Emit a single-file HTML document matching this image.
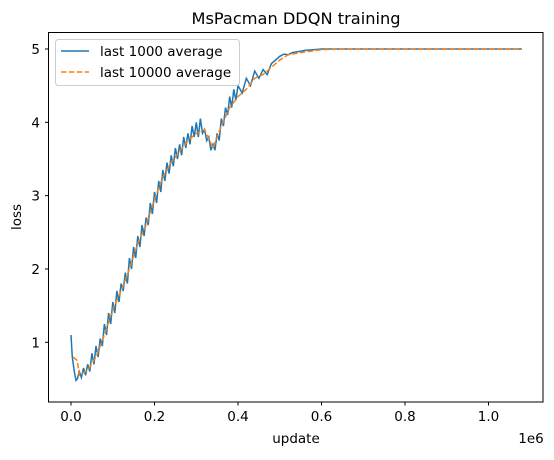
<!DOCTYPE html>
<html><head><meta charset="utf-8"><style>
body{margin:0;background:#fff}
svg text{font-family:"DejaVu Sans","Liberation Sans",sans-serif;fill:#000}
</style></head><body>
<svg id="chart" width="554" height="455">
<text x="296" y="24" font-size="16.2" text-anchor="middle">MsPacman DDQN training</text>
<g id="series"></g>
<rect x="48.5" y="32.5" width="494.5" height="369.5" fill="none" stroke="#000" stroke-width="1"/>
<g id="ticks"></g>
<text x="296" y="443" font-size="13.5" text-anchor="middle">update</text>
<text x="531" y="443" font-size="13.5" text-anchor="middle">1e6</text>
<text x="21" y="217" font-size="13.5" text-anchor="middle" transform="rotate(-90 21 217)">loss</text>
<g>
<rect x="55.5" y="39.5" width="184" height="46" rx="3" fill="#fff" fill-opacity="0.8" stroke="#ccc"/>
<line x1="61" y1="51" x2="89" y2="51" stroke="#1f77b4" stroke-width="1.5"/>
<text x="100" y="56" font-size="13.5">last 1000 average</text>
<line x1="61" y1="72" x2="89" y2="72" stroke="#ff7f0e" stroke-width="1.5" stroke-dasharray="5.5,2.4"/>
<text x="100" y="77" font-size="13.5">last 10000 average</text>
</g>
</svg>
<script>
const blueX=[0,0.003,0.008,0.012,0.015,0.02,0.025,0.03,0.035,0.04,0.045,0.05,0.055,0.06,0.065,0.07,0.075,0.08,0.085,0.09,0.095,0.10,0.105,0.11,0.115,0.12,0.125,0.13,0.135,0.14,0.145,0.15,0.155,0.16,0.165,0.17,0.175,0.18,0.185,0.19,0.195,0.20,0.205,0.21,0.215,0.22,0.225,0.23,0.235,0.24,0.245,0.25,0.255,0.26,0.265,0.27,0.275,0.28,0.285,0.29,0.295,0.30,0.305,0.31,0.315,0.32,0.325,0.33,0.335,0.34,0.345,0.35,0.355,0.36,0.365,0.37,0.375,0.38,0.385,0.39,0.395,0.40,0.41,0.42,0.43,0.44,0.45,0.46,0.47,0.48,0.49,0.50,0.51,0.52,0.53,0.54,0.55,0.56,0.58,0.60,0.65,1.08];
const blueY=[1.1,0.8,0.6,0.48,0.5,0.6,0.52,0.65,0.55,0.7,0.6,0.85,0.7,0.95,0.8,1.05,0.95,1.25,1.1,1.4,1.25,1.55,1.4,1.7,1.55,1.8,1.7,1.95,1.8,2.15,2.0,2.3,2.15,2.45,2.3,2.6,2.45,2.7,2.6,2.9,2.75,3.05,2.9,3.2,3.05,3.35,3.2,3.45,3.3,3.55,3.4,3.65,3.5,3.7,3.55,3.8,3.65,3.85,3.7,3.95,3.8,4.0,3.8,4.05,3.85,3.9,3.75,3.8,3.62,3.7,3.62,3.85,3.75,4.05,3.95,4.2,4.1,4.35,4.2,4.45,4.3,4.5,4.4,4.6,4.5,4.7,4.6,4.72,4.65,4.8,4.85,4.9,4.93,4.92,4.95,4.96,4.97,4.98,4.99,5.0,5.0,5.0];
const orangeX=[0.005,0.015,0.02,0.04,0.06,0.08,0.10,0.12,0.14,0.16,0.18,0.20,0.22,0.24,0.26,0.28,0.30,0.32,0.34,0.36,0.38,0.40,0.42,0.44,0.46,0.48,0.50,0.52,0.55,0.60,0.65,1.08];
const orangeY=[0.8,0.75,0.55,0.62,0.8,1.1,1.45,1.7,2.0,2.35,2.6,2.95,3.25,3.45,3.6,3.75,3.85,3.9,3.65,3.95,4.2,4.35,4.45,4.6,4.65,4.75,4.85,4.92,4.95,4.99,5.0,5.0];
const xTicks=[0,0.2,0.4,0.6,0.8,1.0];
const xTickLabels=["0.0","0.2","0.4","0.6","0.8","1.0"];
const yTicks=[1,2,3,4,5];
const xs=v=>71+v*417.5;
const ys=v=>342.3-(v-1)*73.33;
const NS="http://www.w3.org/2000/svg";
const g=document.getElementById('series'), t=document.getElementById('ticks');
function path(X,Y,color,dash,name){
  const p=document.createElementNS(NS,'path');
  p.setAttribute('d',X.map((x,i)=>(i?'L':'M')+xs(x).toFixed(1)+','+ys(Y[i]).toFixed(1)).join(''));
  p.setAttribute('fill','none');p.setAttribute('stroke',color);p.setAttribute('stroke-width','1.5');
  if(dash)p.setAttribute('stroke-dasharray',dash);
  
  
  g.appendChild(p);
}
path(blueX,blueY,'#1f77b4',null,'series-last-1000');
path(orangeX,orangeY,'#ff7f0e','5.5,2.4','series-last-10000');
xTicks.forEach((v,i)=>{
  const l=document.createElementNS(NS,'line');
  l.setAttribute('x1',xs(v));l.setAttribute('x2',xs(v));l.setAttribute('y1',402);l.setAttribute('y2',405.5);l.setAttribute('stroke','#000');
  
  
  t.appendChild(l);
  const tx=document.createElementNS(NS,'text');
  tx.setAttribute('x',xs(v));tx.setAttribute('y',421);tx.setAttribute('font-size','13.5');tx.setAttribute('text-anchor','middle');
  tx.textContent=xTickLabels[i];
  
  
  t.appendChild(tx);
});
yTicks.forEach(v=>{
  const l=document.createElementNS(NS,'line');
  l.setAttribute('x1',45);l.setAttribute('x2',48.5);l.setAttribute('y1',ys(v));l.setAttribute('y2',ys(v));l.setAttribute('stroke','#000');
  
  
  t.appendChild(l);
  const tx=document.createElementNS(NS,'text');
  tx.setAttribute('x',40);tx.setAttribute('y',ys(v)+5);tx.setAttribute('font-size','13.5');tx.setAttribute('text-anchor','end');
  tx.textContent=String(v);
  
  
  t.appendChild(tx);
});
</script>
</body></html>
